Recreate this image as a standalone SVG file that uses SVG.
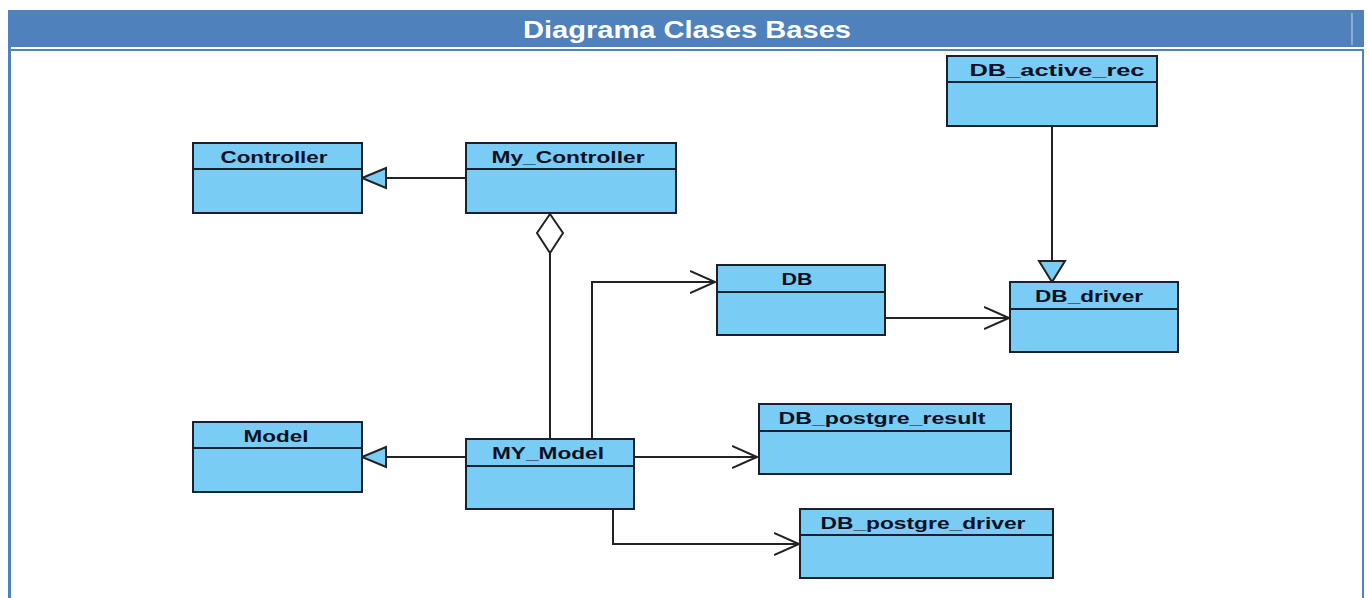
<svg xmlns="http://www.w3.org/2000/svg" width="1369" height="598" viewBox="0 0 1369 598">
<style>
.box{fill:#79CCF4;stroke:#1b1f2e;stroke-width:2}
.div{stroke:#1b1f2e;stroke-width:2}
.lbl{font-family:"Liberation Sans",Arial,sans-serif;font-weight:bold;font-size:16.5px;fill:#0d1024;text-anchor:middle}
.con{fill:none;stroke:#222;stroke-width:2}
.gen{fill:#79CCF4;stroke:#222;stroke-width:2}
</style>
<defs>
<marker id="open" markerUnits="userSpaceOnUse" markerWidth="30" markerHeight="26" refX="25" refY="12" orient="auto" viewBox="0 0 30 26">
<path d="M0,1 L25,12 L0,23" fill="none" stroke="#222" stroke-width="2"/>
</marker>
</defs>
<rect width="1369" height="598" fill="#fff"/>
<g id="frame">
<rect x="8" y="10" width="1356" height="37" fill="#4F81BD"/>
<line x1="1352" y1="13" x2="1352" y2="45" stroke="#c9d6ea" stroke-width="1"/>
<rect x="11" y="49" width="1353" height="2" fill="#4F81BD"/>
<rect x="8" y="47" width="3" height="551" fill="#4F81BD"/>
<rect x="1362" y="49" width="2" height="549" fill="#4F81BD"/>
<text x="687" y="37.5" font-family="Liberation Sans,Arial,sans-serif" font-weight="bold" font-size="24" fill="#fff" text-anchor="middle" textLength="328" lengthAdjust="spacingAndGlyphs">Diagrama Clases Bases</text>
</g>
<g id="connectors">
<line class="con" x1="466" y1="178" x2="386" y2="178"/>
<polygon class="gen" points="362,178 386,168 386,188"/>
<line class="con" x1="466" y1="457" x2="386" y2="457"/>
<polygon class="gen" points="362,457 386,447 386,467"/>
<line class="con" x1="550" y1="439" x2="550" y2="253"/>
<polygon fill="#fff" stroke="#222" stroke-width="2" points="550,214 563,233 550,253 537,233"/>
<polyline class="con" points="592,439 592,282 715,282" marker-end="url(#open)"/>
<line class="con" x1="885" y1="318" x2="1009" y2="318" marker-end="url(#open)"/>
<line class="con" x1="1052" y1="126" x2="1052" y2="261"/>
<polygon class="gen" points="1052,282 1039,261 1065,261"/>
<line class="con" x1="634" y1="457" x2="757" y2="457" marker-end="url(#open)"/>
<polyline class="con" points="613,509 613,544 799,544" marker-end="url(#open)"/>
</g>
<g id="DB_active_rec">
<rect class="box" x="947" y="56" width="210" height="70"/>
<line class="div" x1="947" y1="82" x2="1157" y2="82"/>
<text class="lbl" x="1057" y="76" textLength="175" lengthAdjust="spacingAndGlyphs">DB_active_rec</text>
</g>
<g id="Controller">
<rect class="box" x="193" y="143" width="169" height="70"/>
<line class="div" x1="193" y1="169" x2="362" y2="169"/>
<text class="lbl" x="274" y="163" textLength="107" lengthAdjust="spacingAndGlyphs">Controller</text>
</g>
<g id="My_Controller">
<rect class="box" x="466" y="143" width="210" height="70"/>
<line class="div" x1="466" y1="169" x2="676" y2="169"/>
<text class="lbl" x="568" y="163" textLength="153" lengthAdjust="spacingAndGlyphs">My_Controller</text>
</g>
<g id="DB">
<rect class="box" x="717" y="265" width="168" height="70"/>
<line class="div" x1="717" y1="292" x2="885" y2="292"/>
<text class="lbl" x="797" y="285" textLength="31" lengthAdjust="spacingAndGlyphs">DB</text>
</g>
<g id="DB_driver">
<rect class="box" x="1010" y="282" width="168" height="70"/>
<line class="div" x1="1010" y1="309" x2="1178" y2="309"/>
<text class="lbl" x="1089" y="302" textLength="108" lengthAdjust="spacingAndGlyphs">DB_driver</text>
</g>
<g id="Model">
<rect class="box" x="193" y="422" width="169" height="70"/>
<line class="div" x1="193" y1="448" x2="362" y2="448"/>
<text class="lbl" x="276" y="442" textLength="65" lengthAdjust="spacingAndGlyphs">Model</text>
</g>
<g id="MY_Model">
<rect class="box" x="466" y="439" width="168" height="70"/>
<line class="div" x1="466" y1="466" x2="634" y2="466"/>
<text class="lbl" x="548" y="459" textLength="112" lengthAdjust="spacingAndGlyphs">MY_Model</text>
</g>
<g id="DB_postgre_result">
<rect class="box" x="759" y="404" width="252" height="70"/>
<line class="div" x1="759" y1="431" x2="1011" y2="431"/>
<text class="lbl" x="882" y="424" textLength="207" lengthAdjust="spacingAndGlyphs">DB_postgre_result</text>
</g>
<g id="DB_postgre_driver">
<rect class="box" x="800" y="509" width="253" height="69"/>
<line class="div" x1="800" y1="535" x2="1053" y2="535"/>
<text class="lbl" x="923" y="529" textLength="205" lengthAdjust="spacingAndGlyphs">DB_postgre_driver</text>
</g>
</svg>
